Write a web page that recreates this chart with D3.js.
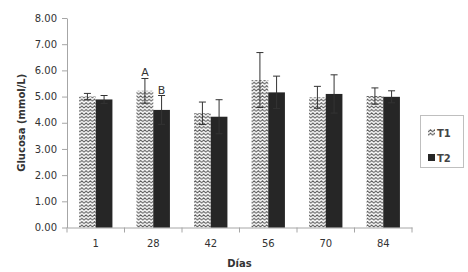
<!DOCTYPE html>
<html><head><meta charset="utf-8">
<script src="https://cdn.jsdelivr.net/npm/d3@7"></script>
<style>body{margin:0;background:#fff;} svg{display:block;}</style>
</head><body>
<script>
const categories = ["1","28","42","56","70","84"];
const seriesNames = ["T1","T2"];
const t1Values = [5.00, 5.22, 4.36, 5.63, 4.97, 5.02];
const t1Errors = [0.12, 0.47, 0.43, 1.05, 0.42, 0.31];
const t2Values = [4.89, 4.49, 4.23, 5.16, 5.10, 4.99];
const t2Errors = [0.15, 0.55, 0.65, 0.62, 0.73, 0.23];
const yTicks = [0,1,2,3,4,5,6,7,8];
const annotations = [{cat:"28", series:0, text:"A"}, {cat:"28", series:1, text:"B"}];

const W=468,H=272;
const m={left:67,right:56,top:18,bottom:44.5};
const svg=d3.select("body").append("svg").attr("width",W).attr("height",H);
const defs=svg.append("defs");
const pat=defs.append("pattern").attr("id","zig").attr("patternUnits","userSpaceOnUse")
  .attr("width",4.2).attr("height",3.4);
pat.append("path").attr("d","M-2.1,0.6 L0,2.6 L2.1,0.6 L4.2,2.6 L6.3,0.6").attr("fill","none")
  .attr("stroke","#555").attr("stroke-width",1);

const x=d3.scaleBand().domain(categories).range([m.left,W-m.right]).paddingInner(0.42).paddingOuter(0.21);
const xs=d3.scaleBand().domain([0,1]).range([0,x.bandwidth()]);
const y=d3.scaleLinear().domain([0,8]).range([H-m.bottom,m.top]);
const axisColor="#a6a6a6";
const font="DejaVu Sans, Verdana, sans-serif";

// y axis
const ya=svg.append("g").attr("transform",`translate(${m.left},0)`)
  .call(d3.axisLeft(y).tickValues(yTicks).tickFormat(d3.format(".2f")).tickSize(5).tickSizeOuter(0));
ya.select(".domain").attr("stroke",axisColor);
ya.selectAll(".tick line").attr("stroke",axisColor);
ya.selectAll(".tick text").attr("fill","#333").attr("font-family",font).attr("font-size",10).attr("dx",-2);

// x axis
const xa=svg.append("g").attr("transform",`translate(0,${y(0)})`)
  .call(d3.axisBottom(x).tickSize(0).tickSizeOuter(0));
xa.select(".domain").attr("stroke",axisColor);
xa.selectAll(".tick text").attr("fill","#333").attr("font-family",font).attr("font-size",10).attr("dy",16);
// category boundary ticks
const bounds=categories.map(c=>x(c)-(x.step()-x.bandwidth())/2);
bounds.push(W-m.right);
xa.selectAll(".bt").data(bounds).enter().append("line")
  .attr("x1",d=>d).attr("x2",d=>d).attr("y1",0).attr("y2",5).attr("stroke",axisColor);

const data=[t1Values,t2Values], errs=[t1Errors,t2Errors];
const fills=["url(#zig)","#262626"];
data.forEach((vals,s)=>{
  svg.append("g").selectAll("rect").data(categories).enter().append("rect")
    .attr("x",(c)=>x(c)+xs(s)).attr("width",xs.bandwidth())
    .attr("y",(c,i)=>y(vals[i])).attr("height",(c,i)=>y(0)-y(vals[i]))
    .attr("fill",fills[s]);
});
// error bars
data.forEach((vals,s)=>{
  const g=svg.append("g").attr("stroke","#333").attr("stroke-width",1);
  categories.forEach((c,i)=>{
    const cx=x(c)+xs(s)+xs.bandwidth()/2;
    const top=y(vals[i]+errs[s][i]), bot=y(vals[i]-errs[s][i]);
    g.append("line").attr("x1",cx).attr("x2",cx).attr("y1",top).attr("y2",bot);
    g.append("line").attr("x1",cx-3.5).attr("x2",cx+3.5).attr("y1",top).attr("y2",top);
    g.append("line").attr("x1",cx-3.5).attr("x2",cx+3.5).attr("y1",bot).attr("y2",bot);
  });
});
// annotations
annotations.forEach(a=>{
  const i=categories.indexOf(a.cat);
  const cx=x(a.cat)+xs(a.series)+xs.bandwidth()/2;
  const top=y(data[a.series][i]+errs[a.series][i]);
  svg.append("text").attr("x",cx).attr("y",top-2).attr("text-anchor","middle")
    .attr("font-family",font).attr("font-size",11).attr("fill","#333").text(a.text);
});

// axis titles
svg.append("text").attr("transform",`translate(25,${(m.top+y(0))/2}) rotate(-90)`)
  .attr("text-anchor","middle").attr("font-family",font).attr("font-weight","bold")
  .attr("font-size",10).attr("fill","#333").text("Glucosa  (mmol/L)");
svg.append("text").attr("x",(m.left+W-m.right)/2).attr("y",267).attr("text-anchor","middle")
  .attr("font-family",font).attr("font-weight","bold").attr("font-size",10).attr("fill","#333").text("Días");

// legend
const lg=svg.append("g");
lg.append("rect").attr("x",420.5).attr("y",115.5).attr("width",43).attr("height",52)
  .attr("fill","#fff").attr("stroke","#bfbfbf");
seriesNames.forEach((n,i)=>{
  const ly=[133,158][i];
  lg.append("rect").attr("x",428).attr("y",ly-4).attr("width",7).attr("height",7).attr("fill",fills[i]);
  lg.append("text").attr("x",437).attr("y",ly+3.5).attr("font-family",font).attr("font-size",10)
    .attr("font-weight","bold").attr("fill","#444").text(n);
});
</script>
</body></html>
